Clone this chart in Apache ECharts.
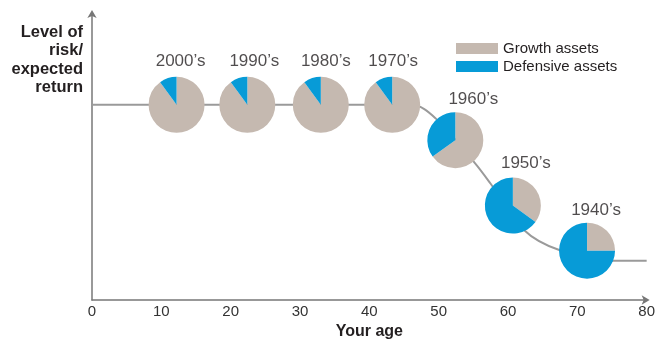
<!DOCTYPE html>
<html>
<head>
<meta charset="utf-8">
<title>Asset mix by age</title>
<script src="https://cdn.jsdelivr.net/npm/echarts@6/dist/echarts.min.js"></script>
<style>
  html, body { margin: 0; padding: 0; background: #fff; }
  #chart { width: 658px; height: 345px; }
</style>
</head>
<body>
<div id="chart"></div>
<script>
// Glide path: risk level against age
const pathAges = [0, 46, 49.6, 55.2, 57.5, 62.3, 67.3, 75, 80];
const pathRisk = [68, 68, 63.2, 47.8, 40.5, 24.4, 17.5, 13.7, 13.7];

// Birth-decade cohorts placed along the path
const decades = ['2000’s', '1990’s', '1980’s', '1970’s', '1960’s', '1950’s', '1940’s'];
const cohortAges = [12.2, 22.4, 33.0, 43.3, 52.4, 60.7, 71.4];
const cohortRisk = [68, 68, 68, 68, 55.7, 32.9, 17.2];
const growthShare = [90, 90, 90, 90, 65, 35, 25];
const defensiveShare = [10, 10, 10, 10, 35, 65, 75];

const xTicks = [0, 10, 20, 30, 40, 50, 60, 70, 80];

const GROWTH = '#c5b9b0';
const DEFENSIVE = '#079bd7';
const FONT = 'Liberation Sans, Arial, sans-serif';
const TEXT = '#231f20';

// small nudges for the decade captions (pixels)
const captionShift = [[4, 0], [7, 0], [5, 0], [1, 0], [18, 3], [13, 1], [9, 3]];

const chart = echarts.init(document.getElementById('chart'));

const baseSeries = [
  {
    name: 'path',
    type: 'line',
    z: 1,
    smooth: 0.35,
    showSymbol: false,
    symbol: 'none',
    lineStyle: { color: '#9a9a9a', width: 2 },
    data: pathAges.map((a, i) => [a, pathRisk[i]])
  },
  {
    name: 'captions',
    type: 'scatter',
    z: 4,
    symbolSize: 0,
    silent: true,
    data: cohortAges.map((a, i) => ({
      value: [a, cohortRisk[i]],
      name: decades[i],
      label: { offset: captionShift[i] }
    })),
    label: {
      show: true,
      position: 'top',
      distance: 35,
      formatter: p => p.name,
      fontSize: 17,
      color: TEXT,
      fontFamily: FONT
    }
  }
];

chart.setOption({
  animation: false,
  textStyle: { fontFamily: FONT },
  grid: { left: 92, right: 10, top: 13, bottom: 41 },
  legend: {
    data: ['Growth assets', 'Defensive assets'],
    orient: 'vertical',
    left: 451,
    top: 36,
    icon: 'rect',
    itemWidth: 42,
    itemHeight: 11,
    itemGap: 3,
    selectedMode: false,
    textStyle: { fontSize: 15, color: TEXT, fontFamily: FONT, lineHeight: 15 }
  },
  xAxis: {
    type: 'value',
    min: 0,
    max: 80,
    interval: 10,
    name: 'Your age',
    nameLocation: 'middle',
    nameGap: 24,
    nameTextStyle: { fontSize: 16, fontWeight: 'bold', color: TEXT },
    axisLine: {
      lineStyle: { color: '#777', width: 1.5 },
      symbol: ['none', 'arrow'],
      symbolSize: [7, 8],
      symbolOffset: [0, 3]
    },
    axisTick: { show: false },
    splitLine: { show: false },
    axisLabel: {
      fontSize: 15,
      color: '#333',
      margin: 4,
      formatter: v => xTicks.includes(v) ? String(v) : ''
    }
  },
  yAxis: {
    type: 'value',
    min: 0,
    max: 100,
    name: 'Level of\nrisk/\nexpected\nreturn',
    nameLocation: 'end',
    nameGap: -10,
    nameTextStyle: {
      align: 'right',
      verticalAlign: 'top',
      fontWeight: 'bold',
      fontSize: 16.5,
      lineHeight: 18.5,
      color: TEXT,
      padding: [0, 9, 0, 0]
    },
    axisLine: {
      show: true,
      lineStyle: { color: '#777', width: 1.5 },
      symbol: ['none', 'arrow'],
      symbolSize: [7, 8],
      symbolOffset: [0, 3]
    },
    axisTick: { show: false },
    axisLabel: { show: false },
    splitLine: { show: false }
  },
  series: baseSeries
});

// One pie per cohort, centred on its point in the grid
const pies = cohortAges.map((a, i) => ({
  name: decades[i],
  type: 'pie',
  z: 3,
  radius: 28,
  center: chart.convertToPixel({ gridIndex: 0 }, [a, cohortRisk[i]]),
  startAngle: 90,
  clockwise: true,
  silent: true,
  label: { show: false },
  labelLine: { show: false },
  itemStyle: { borderWidth: 0 },
  emphasis: { disabled: true },
  data: [
    { name: 'Growth assets', value: growthShare[i], itemStyle: { color: GROWTH } },
    { name: 'Defensive assets', value: defensiveShare[i], itemStyle: { color: DEFENSIVE } }
  ]
}));

chart.setOption({ series: baseSeries.concat(pies) });
</script>
</body>
</html>
